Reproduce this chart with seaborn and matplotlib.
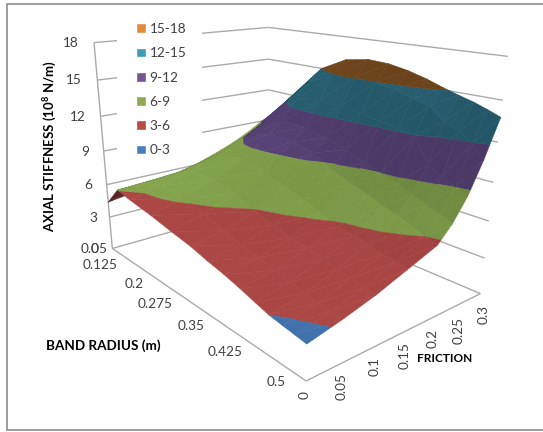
import numpy as np
import matplotlib
matplotlib.use("Agg")
import matplotlib.pyplot as plt
import seaborn as sns
from matplotlib.patches import Patch, Rectangle
from mpl_toolkits.mplot3d.art3d import Line3DCollection, Poly3DCollection

# values
friction = [0, 0.05, 0.1, 0.15, 0.2, 0.225, 0.25, 0.275, 0.3]
radius = [0.05, 0.085, 0.121, 0.181, 0.233, 0.278, 0.317, 0.352, 0.384, 0.412, 0.437, 0.46, 0.481, 0.5]
stiff_r0 = [4.4, 4.8, 5.4, 6.0, 6.9, 7.4, 8.0, 8.7, 9.4]
stiff_r1 = [6.05, 6.2, 6.4, 6.8, 7.7, 8.0, 8.4, 9.2, 10.4]
stiff_r2 = [5.75, 6.3, 7.0, 8.0, 9.1, 9.8, 10.7, 11.5, 12.2]
stiff_r3 = [5.4, 6.2, 7.1, 8.3, 10.0, 10.9, 12.6, 14.0, 15.0]
stiff_r4 = [5.0, 5.7, 6.6, 7.9, 9.9, 10.9, 13.0, 14.9, 16.1]
stiff_r5 = [4.7, 5.1, 5.9, 7.3, 9.5, 10.5, 12.9, 15.1, 16.4]
stiff_r6 = [4.3, 4.7, 5.5, 6.8, 8.6, 10.0, 12.7, 15.0, 16.3]
stiff_r7 = [4.0, 4.4, 5.1, 6.3, 8.0, 9.4, 12.4, 14.7, 16.0]
stiff_r8 = [3.65, 4.1, 4.9, 5.8, 7.6, 9.0, 12.2, 14.3, 15.6]
stiff_r9 = [3.3, 3.8, 4.65, 5.6, 7.1, 8.6, 12.0, 14.0, 15.15]
stiff_r10 = [3.0, 3.55, 4.4, 5.4, 6.8, 8.1, 10.1, 13.1, 14.8]
stiff_r11 = [2.85, 3.4, 4.2, 5.1, 6.4, 7.7, 9.5, 12.6, 14.5]
stiff_r12 = [2.72, 3.3, 4.0, 4.95, 6.0, 7.3, 9.0, 11.9, 14.15]
stiff_r13 = [2.6, 3.2, 3.9, 4.8, 5.7, 6.9, 8.6, 11.0, 13.8]
levels = [0, 3, 6, 9, 12, 15, 18]
band_names = ["0-3", "3-6", "6-9", "9-12", "12-15", "15-18"]
radius_ticks = ["0.05", "0.125", "0.2", "0.275", "0.35", "0.425", "0.5"]
friction_ticks = ["0", "0.05", "0.1", "0.15", "0.2", "0.25", "0.3"]
stiff_ticks = ["18", "15", "12", "9", "6", "3"]

sns.set_theme(style="white")
plt.rcParams["font.family"] = ["Lato", "DejaVu Sans"]
plt.rcParams["mathtext.default"] = "regular"

legend_colors = sns.color_palette(["#4a7ebb", "#b54a47", "#8cab52", "#70558e", "#3f9bb5", "#e08a3c"])
surface_colors = sns.color_palette(["#4476b2", "#b24a48", "#8aaa50", "#5f4880", "#2c6d82", "#7e4f20"])

W, H = 543, 432
fig = plt.figure(figsize=(W / 100, H / 100), dpi=100)
ax = fig.add_axes([0, 0, 1, 1], projection="3d", computed_zorder=False)
ax.set_axis_off()
ax.patch.set_visible(False)
ax.apply_aspect()
# chart frame sits behind the axes, the legend's white box in front of the grid lines
fig.patches.append(Rectangle((7 / W, 1 - 430 / H), 0.99, 426 / H, transform=fig.transFigure,
                             facecolor="white", edgecolor="#8c8c8c", lw=1.2, figure=fig, zorder=-1))
fig.patches.append(Rectangle((117 / W, 1 - 157 / H), 85 / W, 140 / H, transform=fig.transFigure,
                             facecolor="white", edgecolor="none", figure=fig, zorder=1))

# camera of the picture, fitted to the corners of the chart box
corners = [(0, 0, 0, 114, 249), (0, 1, 0, 305, 381), (1, 1, 0, 482, 293), (1, 0, 0, 267, 204),
           (0, 0, 1, 93, 42), (1, 1, 1, 507, 57), (1, 0, 1, 270, 27.5)]
rows = []
for a, b, c, px, py in corners:
    py = H - py
    rows.append([a, b, c, 1, 0, 0, 0, 0, -px * a, -px * b, -px * c, -px])
    rows.append([0, 0, 0, 0, a, b, c, 1, -py * a, -py * b, -py * c, -py])
cam = np.linalg.svd(np.array(rows))[2][-1].reshape(3, 4)
to_unit = np.array([[1 / 0.3, 0, 0, 0], [0, 1 / 0.45, 0, -0.05 / 0.45], [0, 0, 1 / 18, 0], [0, 0, 0, 1]])
cam = cam @ to_unit
if cam[2] @ [0.15, 0.275, 9, 1] < 0:
    cam = -cam
inv = ax.transData.inverted()
o = inv.transform((0, 0))
ex, ey = inv.transform((1, 0)) - o, inv.transform((0, 1)) - o
view = np.array([[ex[0], ey[0], o[0]], [ex[1], ey[1], o[1]], [0, 0, 1]]) @ cam
far = view[2] @ [0.15, 0.275, 9, 1]
M = np.vstack([view[0], view[1], view[2] - [0, 0, 0, far], view[2]])
ax.get_proj = lambda: M


def clip_band(tri, lo, hi):
    # keep the part of a triangle that lies between two heights
    poly = tri
    for lim, sign in ((lo, 1), (hi, -1)):
        out = []
        for i in range(len(poly)):
            p, q = np.array(poly[i]), np.array(poly[(i + 1) % len(poly)])
            dp, dq = sign * (p[2] - lim), sign * (q[2] - lim)
            if dp >= 0:
                out.append(p)
            if dp * dq < 0:
                out.append(p + (q - p) * dp / (dp - dq))
        poly = out
        if not poly:
            break
    return poly


def facing(tri):
    pts = np.array([cam @ [*p, 1] for p in tri])
    pts = pts[:, :2] / pts[:, 2:]
    a, b = pts[1] - pts[0], pts[2] - pts[0]
    return a[0] * b[1] - a[1] * b[0]


table = np.array([stiff_r0, stiff_r1, stiff_r2, stiff_r3, stiff_r4, stiff_r5, stiff_r6, stiff_r7,
                  stiff_r8, stiff_r9, stiff_r10, stiff_r11, stiff_r12, stiff_r13])
# slopes in box units, they only drive the shading
slope_r, slope_f = np.gradient(table / 18, np.array(radius) / 0.45, np.array(friction) / 0.3)
light = np.array([0.3, -0.05, 0.95])
light = light / np.linalg.norm(light)
front = np.sign(facing([(0, 0.05, 0), (0.3, 0.05, 0), (0, 0.5, 0)]))

polys, cols = [], []
for i in range(len(radius) - 1):
    for j in range(len(friction) - 1):
        p00 = (friction[j], radius[i], table[i, j])
        p10 = (friction[j + 1], radius[i], table[i, j + 1])
        p01 = (friction[j], radius[i + 1], table[i + 1, j])
        p11 = (friction[j + 1], radius[i + 1], table[i + 1, j + 1])
        n = np.array([-slope_f[i:i + 2, j:j + 2].mean(), -slope_r[i:i + 2, j:j + 2].mean(), 1])
        n = n / np.linalg.norm(n)
        shade = 0.74 + 0.26 * max(n @ light, 0)
        for tri in ([p00, p10, p11], [p00, p11, p01]):
            tone = shade if facing(tri) * front > 0 else 0.5
            for b in range(6):
                part = clip_band(tri, levels[b], levels[b + 1])
                if len(part) >= 3:
                    polys.append(part)
                    cols.append(np.array(surface_colors[b]) * tone)

surf = Poly3DCollection(polys, facecolors=cols, edgecolors=cols, linewidths=0.35, clip_on=False, zorder=3)
ax.add_collection3d(surf, autolim=False)

# chart box
f0, f1, r0, r1 = friction[0], friction[-1], radius[0], radius[-1]
segs = []
for lv in levels:
    segs.append([(f0, r0, lv), (f1, r0, lv)])
    segs.append([(f1, r0, lv), (f1, r1, lv)])
segs.append([(f0, r0, levels[0]), (f0, r0, levels[-1])])
segs.append([(f0, r0, levels[0]), (f0, r1, levels[0])])
segs.append([(f0, r1, levels[0]), (f1, r1, levels[0])])
box = Line3DCollection(segs, colors="#aaaaaa", linewidths=1.0, clip_on=False, zorder=2)
ax.add_collection3d(box, autolim=False)


def px_text(x, y, s, **kw):
    kw.setdefault("color", "#404040")
    kw.setdefault("fontsize", 9.8)
    fig.text(x / W, 1 - y / H, s, ha="center", va="center", **kw)


for lab, x, y in zip(stiff_ticks, [71, 74, 78, 85, 88, 93], [43, 80, 117, 152, 185, 218]):
    px_text(x, y, lab)
px_text(95, 249, "0")
for lab, x, y in zip(radius_ticks, [94, 100, 134, 155, 191, 225, 276], [249, 265, 284, 304, 326, 352, 382]):
    px_text(x, y, lab)
for lab, x, y in zip(friction_ticks, [305, 342, 375, 405, 433, 459, 484], [395, 387, 367, 356, 338, 330, 314]):
    px_text(x, y, lab, rotation=90)

bold = dict(color="black", fontweight="bold")
px_text(50, 146, "AXIAL STIFFNESS (10$^{8}$ N/m)", rotation=90, fontsize=9.5, **bold)
px_text(103, 346, "BAND RADIUS (m)", fontsize=9.7, **bold)
px_text(445, 359, "FRICTION", fontsize=8.5, **bold)

handles = [Patch(facecolor=legend_colors[b], label=band_names[b]) for b in range(5, -1, -1)]
fig.legend(handles=handles, loc="upper left", bbox_to_anchor=(136 / W, 1 - 23 / H), borderaxespad=0,
           frameon=False, fontsize=9.8, labelcolor="#404040", handlelength=0.7, handleheight=0.72,
           handletextpad=0.3, labelspacing=0.9, borderpad=0)

fig.savefig("out.png", dpi=100)
